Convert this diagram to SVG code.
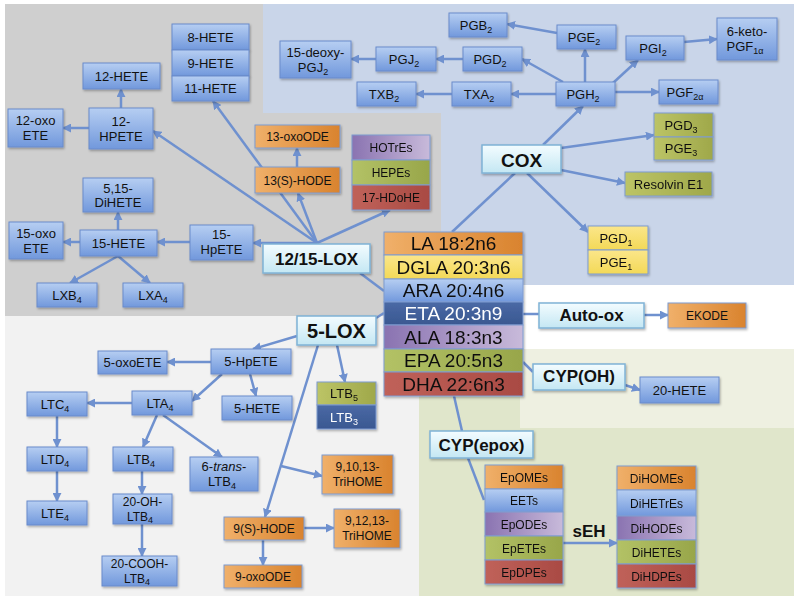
<svg xmlns="http://www.w3.org/2000/svg" width="800" height="601" viewBox="0 0 800 601">
<defs>
<linearGradient id="gB" x1="0" y1="0" x2="0" y2="1"><stop offset="0" stop-color="#b6cef2"/><stop offset="1" stop-color="#7198dc"/></linearGradient>
<linearGradient id="gO" x1="0" y1="0" x2="1" y2="0"><stop offset="0" stop-color="#f0b06a"/><stop offset="1" stop-color="#d9832e"/></linearGradient>
<linearGradient id="gOl" x1="0" y1="0" x2="1" y2="0"><stop offset="0" stop-color="#bcc466"/><stop offset="1" stop-color="#9fa84a"/></linearGradient>
<linearGradient id="gY" x1="0" y1="0" x2="0" y2="1"><stop offset="0" stop-color="#fbe68a"/><stop offset="1" stop-color="#f3d957"/></linearGradient>
<linearGradient id="gP" x1="0" y1="0" x2="1" y2="0"><stop offset="0" stop-color="#8a73b1"/><stop offset="1" stop-color="#c8bada"/></linearGradient>
<linearGradient id="gG" x1="0" y1="0" x2="1" y2="0"><stop offset="0" stop-color="#b3c266"/><stop offset="1" stop-color="#98a64a"/></linearGradient>
<linearGradient id="gR" x1="0" y1="0" x2="1" y2="0"><stop offset="0" stop-color="#c0625a"/><stop offset="1" stop-color="#a94a43"/></linearGradient>
<linearGradient id="gDB" x1="0" y1="0" x2="0" y2="1"><stop offset="0" stop-color="#4a69a5"/><stop offset="1" stop-color="#3a5891"/></linearGradient>
<linearGradient id="gE" x1="0" y1="0" x2="0" y2="1"><stop offset="0" stop-color="#f3fcff"/><stop offset="1" stop-color="#c4e7f3"/></linearGradient>
<filter id="sh" x="-10%" y="-10%" width="130%" height="140%"><feDropShadow dx="1" dy="1.5" stdDeviation="1" flood-color="#000" flood-opacity="0.3"/></filter>
<marker id="ah" viewBox="0 0 10 10" refX="9" refY="5" markerWidth="9" markerHeight="9" markerUnits="userSpaceOnUse" orient="auto"><path d="M0,0 L10,5 L0,10 z" fill="#6f91cf"/></marker>
<style>
text{font-family:"Liberation Sans",Arial,sans-serif;font-size:13px;text-anchor:middle;fill:#111}
rect.n,.b rect,.o rect,.e rect,.st{filter:url(#sh)}
.b rect{fill:url(#gB);stroke:#6a8bcb;stroke-width:1}
.o rect{fill:url(#gO);stroke:#7f9bd0;stroke-width:1}
.o text{font-size:12px}
.ol{fill:url(#gOl)}
.y{fill:url(#gY)}
.p{fill:url(#gP)}
.g{fill:url(#gG)}
.r{fill:url(#gR)}
.db{fill:url(#gDB)}
.bl{fill:url(#gB)}
.or{fill:url(#gO)}
.st rect{stroke:#7f9bd0;stroke-width:1}
.st text{font-size:12px}
.fa text{font-size:19px}
.e rect{fill:url(#gE);stroke:#7fb3d6;stroke-width:1.5}
.e text{font-weight:bold;font-size:17px}
.w{fill:#fff}
.sub{font-size:9px}
.c line{stroke:#6f91cf;stroke-width:2.5;fill:none}
.c .a{marker-end:url(#ah)}
.sm{font-size:12px}
</style>
</defs>
<g id="background">
<rect x="0" y="0" width="800" height="601" fill="#ffffff"/>
<rect x="5" y="4" width="436" height="312" fill="#cfcfcf"/>
<polygon points="263,4 794,4 794,285 441,285 441,113 263,113" fill="#c9d5e9"/>
<rect x="5" y="316" width="414" height="280" fill="#f2f2f2"/>
<rect x="419" y="349" width="375" height="247" fill="#e0e6cb"/>
<rect x="520" y="349" width="274" height="79" fill="#eef0e1"/>
</g>
<g id="connectors" class="c">
<line class="a" x1="121" y1="108" x2="121" y2="89"/>
<line class="a" x1="89" y1="128" x2="63" y2="128"/>
<line class="a" x1="317" y1="243" x2="153" y2="131"/>
<line class="a" x1="317" y1="243" x2="213" y2="101"/>
<line class="a" x1="317" y1="243" x2="298" y2="193"/>
<line class="a" x1="317" y1="243" x2="390" y2="210"/>
<line class="a" x1="317" y1="243" x2="253" y2="243"/>
<line class="a" x1="190" y1="242" x2="157" y2="242"/>
<line class="a" x1="118" y1="230" x2="118" y2="212"/>
<line class="a" x1="80" y1="242" x2="63" y2="242"/>
<line class="a" x1="118" y1="256" x2="70" y2="283"/>
<line class="a" x1="118" y1="256" x2="150" y2="283"/>
<line class="a" x1="297" y1="167" x2="297" y2="148"/>
<line class="a" x1="543" y1="145" x2="583" y2="106"/>
<line class="a" x1="556" y1="94" x2="511" y2="94"/>
<line class="a" x1="452" y1="94" x2="416" y2="94"/>
<line class="a" x1="563" y1="82" x2="522" y2="59"/>
<line class="a" x1="463" y1="59" x2="436" y2="59"/>
<line class="a" x1="376" y1="59" x2="351" y2="59"/>
<line class="a" x1="585" y1="82" x2="585" y2="49"/>
<line class="a" x1="557" y1="33" x2="507" y2="24"/>
<line class="a" x1="613" y1="83" x2="638" y2="60"/>
<line class="a" x1="684" y1="42" x2="717" y2="39"/>
<line class="a" x1="615" y1="92" x2="659" y2="92"/>
<line class="a" x1="561" y1="148" x2="654" y2="135"/>
<line class="a" x1="561" y1="170" x2="625" y2="183"/>
<line class="a" x1="527" y1="173" x2="588" y2="232"/>
<line x1="515" y1="173" x2="452" y2="232"/>
<line x1="360" y1="273" x2="384" y2="291"/>
<line x1="384" y1="313" x2="376" y2="318"/>
<line x1="523" y1="314" x2="539" y2="314"/>
<line class="a" x1="644" y1="315" x2="668" y2="315"/>
<line x1="523" y1="362" x2="533" y2="372"/>
<line class="a" x1="625" y1="385" x2="640" y2="390"/>
<line x1="454" y1="396" x2="462" y2="431"/>
<line x1="468" y1="458" x2="484" y2="500"/>
<line class="a" x1="563" y1="543" x2="617" y2="543"/>
<line class="a" x1="297" y1="336" x2="253" y2="349"/>
<line class="a" x1="337" y1="345" x2="345" y2="382"/>
<line class="a" x1="318" y1="345" x2="265" y2="517"/>
<line class="a" x1="281" y1="466" x2="322" y2="476"/>
<line class="a" x1="304" y1="528" x2="334" y2="528"/>
<line class="a" x1="263" y1="540" x2="263" y2="565"/>
<line class="a" x1="211" y1="362" x2="167" y2="362"/>
<line class="a" x1="250" y1="374" x2="256" y2="396"/>
<line class="a" x1="222" y1="374" x2="192" y2="401"/>
<line class="a" x1="132" y1="403" x2="87" y2="403"/>
<line class="a" x1="157" y1="415" x2="143" y2="447"/>
<line class="a" x1="163" y1="415" x2="222" y2="457"/>
<line class="a" x1="57" y1="416" x2="57" y2="447"/>
<line class="a" x1="57" y1="471" x2="57" y2="501"/>
<line class="a" x1="142" y1="471" x2="142" y2="494"/>
<line class="a" x1="142" y1="524" x2="142" y2="556"/>
</g>
<g id="hete-8-9-11" class="b">
<rect x="172" y="24" width="77" height="26"/><text x="210.5" y="41.5">8-HETE</text>
<rect x="172" y="50" width="77" height="26"/><text x="210.5" y="67.5">9-HETE</text>
<rect x="172" y="76" width="77" height="25"/><text x="210.5" y="93">11-HETE</text>
</g>
<g id="hete12" class="b"><rect x="83" y="63" width="77" height="26"/><text x="121.5" y="80.5">12-HETE</text></g>
<g id="hpete12" class="b"><rect x="89" y="108" width="64" height="41"/><text x="121" y="126">12-</text><text x="121" y="141">HPETE</text></g>
<g id="oxoete12" class="b"><rect x="8" y="109" width="55" height="38"/><text x="35.5" y="125">12-oxo</text><text x="35.5" y="140">ETE</text></g>
<g id="dihete515" class="b"><rect x="83" y="178" width="70" height="34"/><text x="118" y="193">5,15-</text><text x="118" y="207">DiHETE</text></g>
<g id="hete15" class="b"><rect x="80" y="230" width="77" height="26"/><text x="118.5" y="247.5">15-HETE</text></g>
<g id="oxoete15" class="b"><rect x="9" y="222" width="54" height="37"/><text x="36" y="238">15-oxo</text><text x="36" y="253">ETE</text></g>
<g id="lxb4" class="b"><rect x="37" y="283" width="60" height="24"/><text x="67" y="299.5">LXB<tspan class="sub" dy="3">4</tspan></text></g>
<g id="lxa4" class="b"><rect x="123" y="283" width="60" height="24"/><text x="153" y="299.5">LXA<tspan class="sub" dy="3">4</tspan></text></g>
<g id="hpete15" class="b"><rect x="190" y="225" width="63" height="35"/><text x="221.5" y="239">15-</text><text x="221.5" y="254">HpETE</text></g>
<g id="oxoode13" class="o"><rect x="255" y="125" width="85" height="23"/><text x="297.5" y="141">13-oxoODE</text></g>
<g id="hode13" class="o"><rect x="255" y="167" width="85" height="26"/><text x="297.5" y="184.5">13(S)-HODE</text></g>
<g id="lox-products" class="st">
<rect class="p" x="352" y="135" width="78" height="25"/><text x="391" y="152">HOTrEs</text>
<rect class="g" x="352" y="160" width="78" height="25"/><text x="391" y="177">HEPEs</text>
<rect class="r" x="352" y="185" width="78" height="25"/><text x="391" y="202">17-HDoHE</text>
</g>
<g id="pgb2" class="b"><rect x="449" y="13" width="58" height="24"/><text x="476" y="29.5">PGB<tspan class="sub" dy="3">2</tspan></text></g>
<g id="pge2" class="b"><rect x="557" y="25" width="59" height="24"/><text x="584" y="41.5">PGE<tspan class="sub" dy="3">2</tspan></text></g>
<g id="pgd2" class="b"><rect x="463" y="47" width="59" height="24"/><text x="490" y="63.5">PGD<tspan class="sub" dy="3">2</tspan></text></g>
<g id="deoxypgj2" class="b"><rect x="280" y="41" width="71" height="37"/><text x="315.5" y="57">15-deoxy-</text><text x="313" y="72">PGJ<tspan class="sub" dy="3">2</tspan></text></g>
<g id="pgj2" class="b"><rect x="376" y="47" width="60" height="24"/><text x="404" y="63.5">PGJ<tspan class="sub" dy="3">2</tspan></text></g>
<g id="txb2" class="b"><rect x="357" y="82" width="59" height="24"/><text x="384" y="98.5">TXB<tspan class="sub" dy="3">2</tspan></text></g>
<g id="txa2" class="b"><rect x="452" y="82" width="59" height="24"/><text x="479" y="98.5">TXA<tspan class="sub" dy="3">2</tspan></text></g>
<g id="pgh2" class="b"><rect x="556" y="82" width="59" height="24"/><text x="583" y="98.5">PGH<tspan class="sub" dy="3">2</tspan></text></g>
<g id="pgi2" class="b"><rect x="626" y="36" width="58" height="24"/><text x="653" y="52.5">PGI<tspan class="sub" dy="3">2</tspan></text></g>
<g id="ketopgf1a" class="b"><rect x="717" y="18" width="60" height="42"/><text x="747" y="36">6-keto-</text><text x="745" y="51">PGF<tspan class="sub" dy="3">1α</tspan></text></g>
<g id="pgf2a" class="b"><rect x="659" y="80" width="59" height="24"/><text x="685" y="96.5">PGF<tspan class="sub" dy="3">2α</tspan></text></g>
<g id="pg3" class="st">
<rect class="ol" x="654" y="113" width="59" height="24"/><text x="681" y="129.5" style="font-size:13px">PGD<tspan class="sub" dy="3">3</tspan></text>
<rect class="ol" x="654" y="137" width="59" height="23"/><text x="681" y="153" style="font-size:13px">PGE<tspan class="sub" dy="3">3</tspan></text>
</g>
<g id="resolvin" class="st"><rect class="ol" x="625" y="172" width="87" height="24"/><text x="668.5" y="188.5" style="font-size:13px">Resolvin E1</text></g>
<g id="pg1" class="st">
<rect class="y" x="588" y="226" width="60" height="24"/><text x="616" y="242.5" style="font-size:13px">PGD<tspan class="sub" dy="3">1</tspan></text>
<rect class="y" x="588" y="250" width="60" height="24"/><text x="616" y="266.5" style="font-size:13px">PGE<tspan class="sub" dy="3">1</tspan></text>
</g>
<g id="cox" class="e"><rect x="482" y="145" width="79" height="28"/><text x="521.5" y="167" style="font-size:19px">COX</text></g>
<g id="lox1215" class="e"><rect x="263" y="244" width="107" height="29"/><text x="316.5" y="265">12/15-LOX</text></g>
<g id="lox5" class="e"><rect x="297" y="316" width="79" height="29"/><text x="336.5" y="338" style="font-size:20px">5-LOX</text></g>
<g id="autoox" class="e"><rect x="539" y="303" width="105" height="25"/><text x="591.5" y="321">Auto-ox</text></g>
<g id="cypoh" class="e"><rect x="533" y="364" width="92" height="26"/><text x="579" y="382">CYP(OH)</text></g>
<g id="cypepox" class="e"><rect x="430" y="431" width="103" height="27"/><text x="481.5" y="450.5">CYP(epox)</text></g>
<g id="fatty-acids" class="st fa">
<rect class="or" x="384" y="232" width="139" height="23"/><text x="453.5" y="250">LA 18:2n6</text>
<rect class="y" x="384" y="255" width="139" height="24"/><text x="453.5" y="273.5">DGLA 20:3n6</text>
<rect class="bl" x="384" y="279" width="139" height="23"/><text x="453.5" y="297">ARA 20:4n6</text>
<rect class="db" x="384" y="302" width="139" height="23"/><text class="w" x="453.5" y="320">ETA 20:3n9</text>
<rect class="p" x="384" y="325" width="139" height="24"/><text x="453.5" y="343.5">ALA 18:3n3</text>
<rect class="g" x="384" y="349" width="139" height="23"/><text x="453.5" y="367">EPA 20:5n3</text>
<rect class="r" x="384" y="372" width="139" height="24"/><text x="453.5" y="390.5">DHA 22:6n3</text>
</g>
<g id="ekode" class="o"><rect x="668" y="303" width="78" height="25"/><text x="707" y="320">EKODE</text></g>
<g id="hete20" class="b"><rect x="640" y="377" width="79" height="26"/><text x="679.5" y="394.5">20-HETE</text></g>
<g id="epoxides" class="st">
<rect class="or" x="485" y="465" width="78" height="24"/><text x="524" y="481.5">EpOMEs</text>
<rect class="bl" x="485" y="489" width="78" height="23"/><text x="524" y="505">EETs</text>
<rect class="p" x="485" y="512" width="78" height="24"/><text x="524" y="528.5">EpODEs</text>
<rect class="g" x="485" y="536" width="78" height="24"/><text x="524" y="552.5">EpETEs</text>
<rect class="r" x="485" y="560" width="78" height="24"/><text x="524" y="576.5">EpDPEs</text>
</g>
<g id="seh"><text x="589" y="537" style="font-weight:bold;font-size:17px">sEH</text></g>
<g id="diols" class="st">
<rect class="or" x="617" y="466" width="79" height="24"/><text x="656.5" y="482.5">DiHOMEs</text>
<rect class="bl" x="617" y="490" width="79" height="26"/><text x="656.5" y="507.5">DiHETrEs</text>
<rect class="p" x="617" y="516" width="79" height="24"/><text x="656.5" y="532.5">DiHODEs</text>
<rect class="g" x="617" y="540" width="79" height="24"/><text x="656.5" y="556.5">DiHETEs</text>
<rect class="r" x="617" y="564" width="79" height="24"/><text x="656.5" y="580.5">DiHDPEs</text>
</g>
<g id="hpete5" class="b"><rect x="211" y="349" width="80" height="25"/><text x="251" y="366">5-HpETE</text></g>
<g id="oxoete5" class="b"><rect x="98" y="351" width="69" height="23"/><text x="132.5" y="367">5-oxoETE</text></g>
<g id="hete5" class="b"><rect x="222" y="396" width="70" height="24"/><text x="257" y="412.5">5-HETE</text></g>
<g id="ltb5-ltb3" class="st">
<rect class="ol" x="317" y="382" width="59" height="23"/><text x="344" y="398" style="font-size:13px">LTB<tspan class="sub" dy="3">5</tspan></text>
<rect class="db" x="317" y="405" width="59" height="24"/><text class="w" x="344" y="421.5" style="font-size:13px">LTB<tspan class="sub w" dy="3">3</tspan></text>
</g>
<g id="lta4" class="b"><rect x="132" y="391" width="60" height="24"/><text x="160" y="407.5">LTA<tspan class="sub" dy="3">4</tspan></text></g>
<g id="ltc4" class="b"><rect x="27" y="392" width="60" height="24"/><text x="55" y="408.5">LTC<tspan class="sub" dy="3">4</tspan></text></g>
<g id="ltd4" class="b"><rect x="27" y="447" width="60" height="24"/><text x="55" y="463.5">LTD<tspan class="sub" dy="3">4</tspan></text></g>
<g id="lte4" class="b"><rect x="27" y="501" width="60" height="24"/><text x="55" y="517.5">LTE<tspan class="sub" dy="3">4</tspan></text></g>
<g id="ltb4" class="b"><rect x="113" y="447" width="60" height="24"/><text x="141" y="463.5">LTB<tspan class="sub" dy="3">4</tspan></text></g>
<g id="transltb4" class="b"><rect x="190" y="457" width="68" height="34"/><text x="224" y="471">6-<tspan font-style="italic">trans</tspan>-</text><text x="222" y="486">LTB<tspan class="sub" dy="3">4</tspan></text></g>
<g id="ohltb4" class="b"><rect x="113" y="494" width="59" height="30"/><text class="sm" x="142.5" y="506">20-OH-</text><text class="sm" x="140" y="520.5">LTB<tspan class="sub" dy="2">4</tspan></text></g>
<g id="coohltb4" class="b"><rect x="102" y="556" width="75" height="30"/><text class="sm" x="139.5" y="568">20-COOH-</text><text class="sm" x="137" y="582.5">LTB<tspan class="sub" dy="2">4</tspan></text></g>
<g id="trihome91013" class="o"><rect x="322" y="455" width="71" height="39"/><text x="357.5" y="471">9,10,13-</text><text x="357.5" y="486">TriHOME</text></g>
<g id="hode9" class="o"><rect x="224" y="517" width="80" height="23"/><text x="264" y="533">9(S)-HODE</text></g>
<g id="trihome91213" class="o"><rect x="334" y="509" width="66" height="39"/><text x="367" y="525">9,12,13-</text><text x="367" y="540">TriHOME</text></g>
<g id="oxoode9" class="o"><rect x="224" y="565" width="78" height="23"/><text x="263" y="581">9-oxoODE</text></g>
</svg>
